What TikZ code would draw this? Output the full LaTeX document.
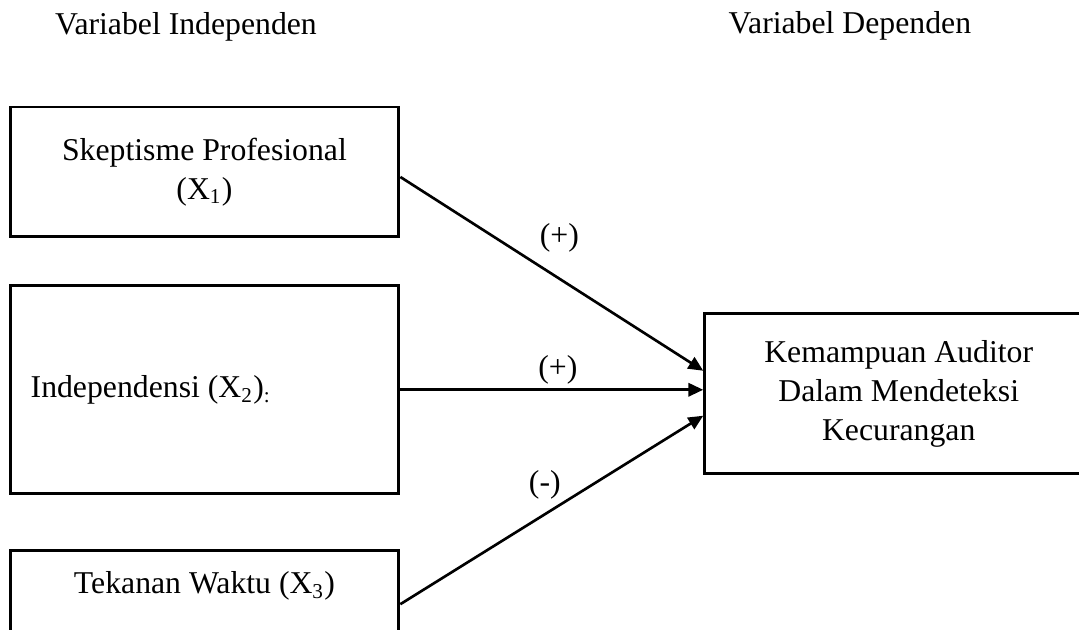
\documentclass[tikz,border=0pt]{standalone}
\usepackage{fontspec}
\setmainfont{Liberation Serif}
\usetikzlibrary{arrows.meta, positioning}

\begin{document}
\begin{tikzpicture}[
    every node/.style={font=\fontsize{12pt}{14.7pt}\selectfont},
    varbox/.style={rectangle, draw, line width=1.1pt, minimum width=147pt, align=center},
    title/.style={anchor=base, inner sep=0pt},
    sign/.style={inner sep=0pt},
    arrow/.style={-{Triangle[length=5.6pt, width=5pt]}, line width=1pt}
]
\useasboundingbox (0,0) rectangle (407.9pt,-238.1pt);
\clip (0,0) rectangle (407.9pt,-238.1pt);

% Titles
\node[title] (indeptitle) at (70.3pt,-13.2pt) {Variabel Independen};
\node[title] (deptitle) at (321.3pt,-12.5pt) {Variabel Dependen};

% Independent variables
\node[varbox, minimum height=49.1pt] (skeptis) at (77.3pt,-65pt) {Skeptisme Profesional\\(X\textsubscript{1})};
\node[varbox, minimum height=78.6pt, below=17.4pt of skeptis, align=flush left, inner xsep=7.8pt, text width=131.4pt] (indep) {Independensi (X\textsubscript{2})\textsubscript{:}};
\node[varbox, below=20.4pt of indep, inner ysep=4pt, text height=12.3pt, text depth=40pt] (tekanan) {Tekanan Waktu (X\textsubscript{3})};

% Dependent variable
\node[varbox, minimum width=146.7pt, minimum height=60.5pt, right=114.5pt of indep, yshift=-1.5pt] (kemampuan) {Kemampuan Auditor\\Dalam Mendeteksi\\Kecurangan};

% Paths
\draw[arrow] ([yshift=-1.9pt]skeptis.east) -- node[sign, pos=0.525, above=9.5pt] (plusa) {(+)} ([yshift=8.7pt]kemampuan.west);
\draw[arrow] (indep.east) -- node[sign, pos=0.52, above=1.5pt] (plusb) {(+)} (indep.east -| kemampuan.west);
\draw[arrow] ([yshift=-20.8pt]tekanan.north east) -- node[sign, pos=0.477, above=5pt] (minus) {(-)} ([yshift=-8.3pt]kemampuan.west);

\end{tikzpicture}
\end{document}
